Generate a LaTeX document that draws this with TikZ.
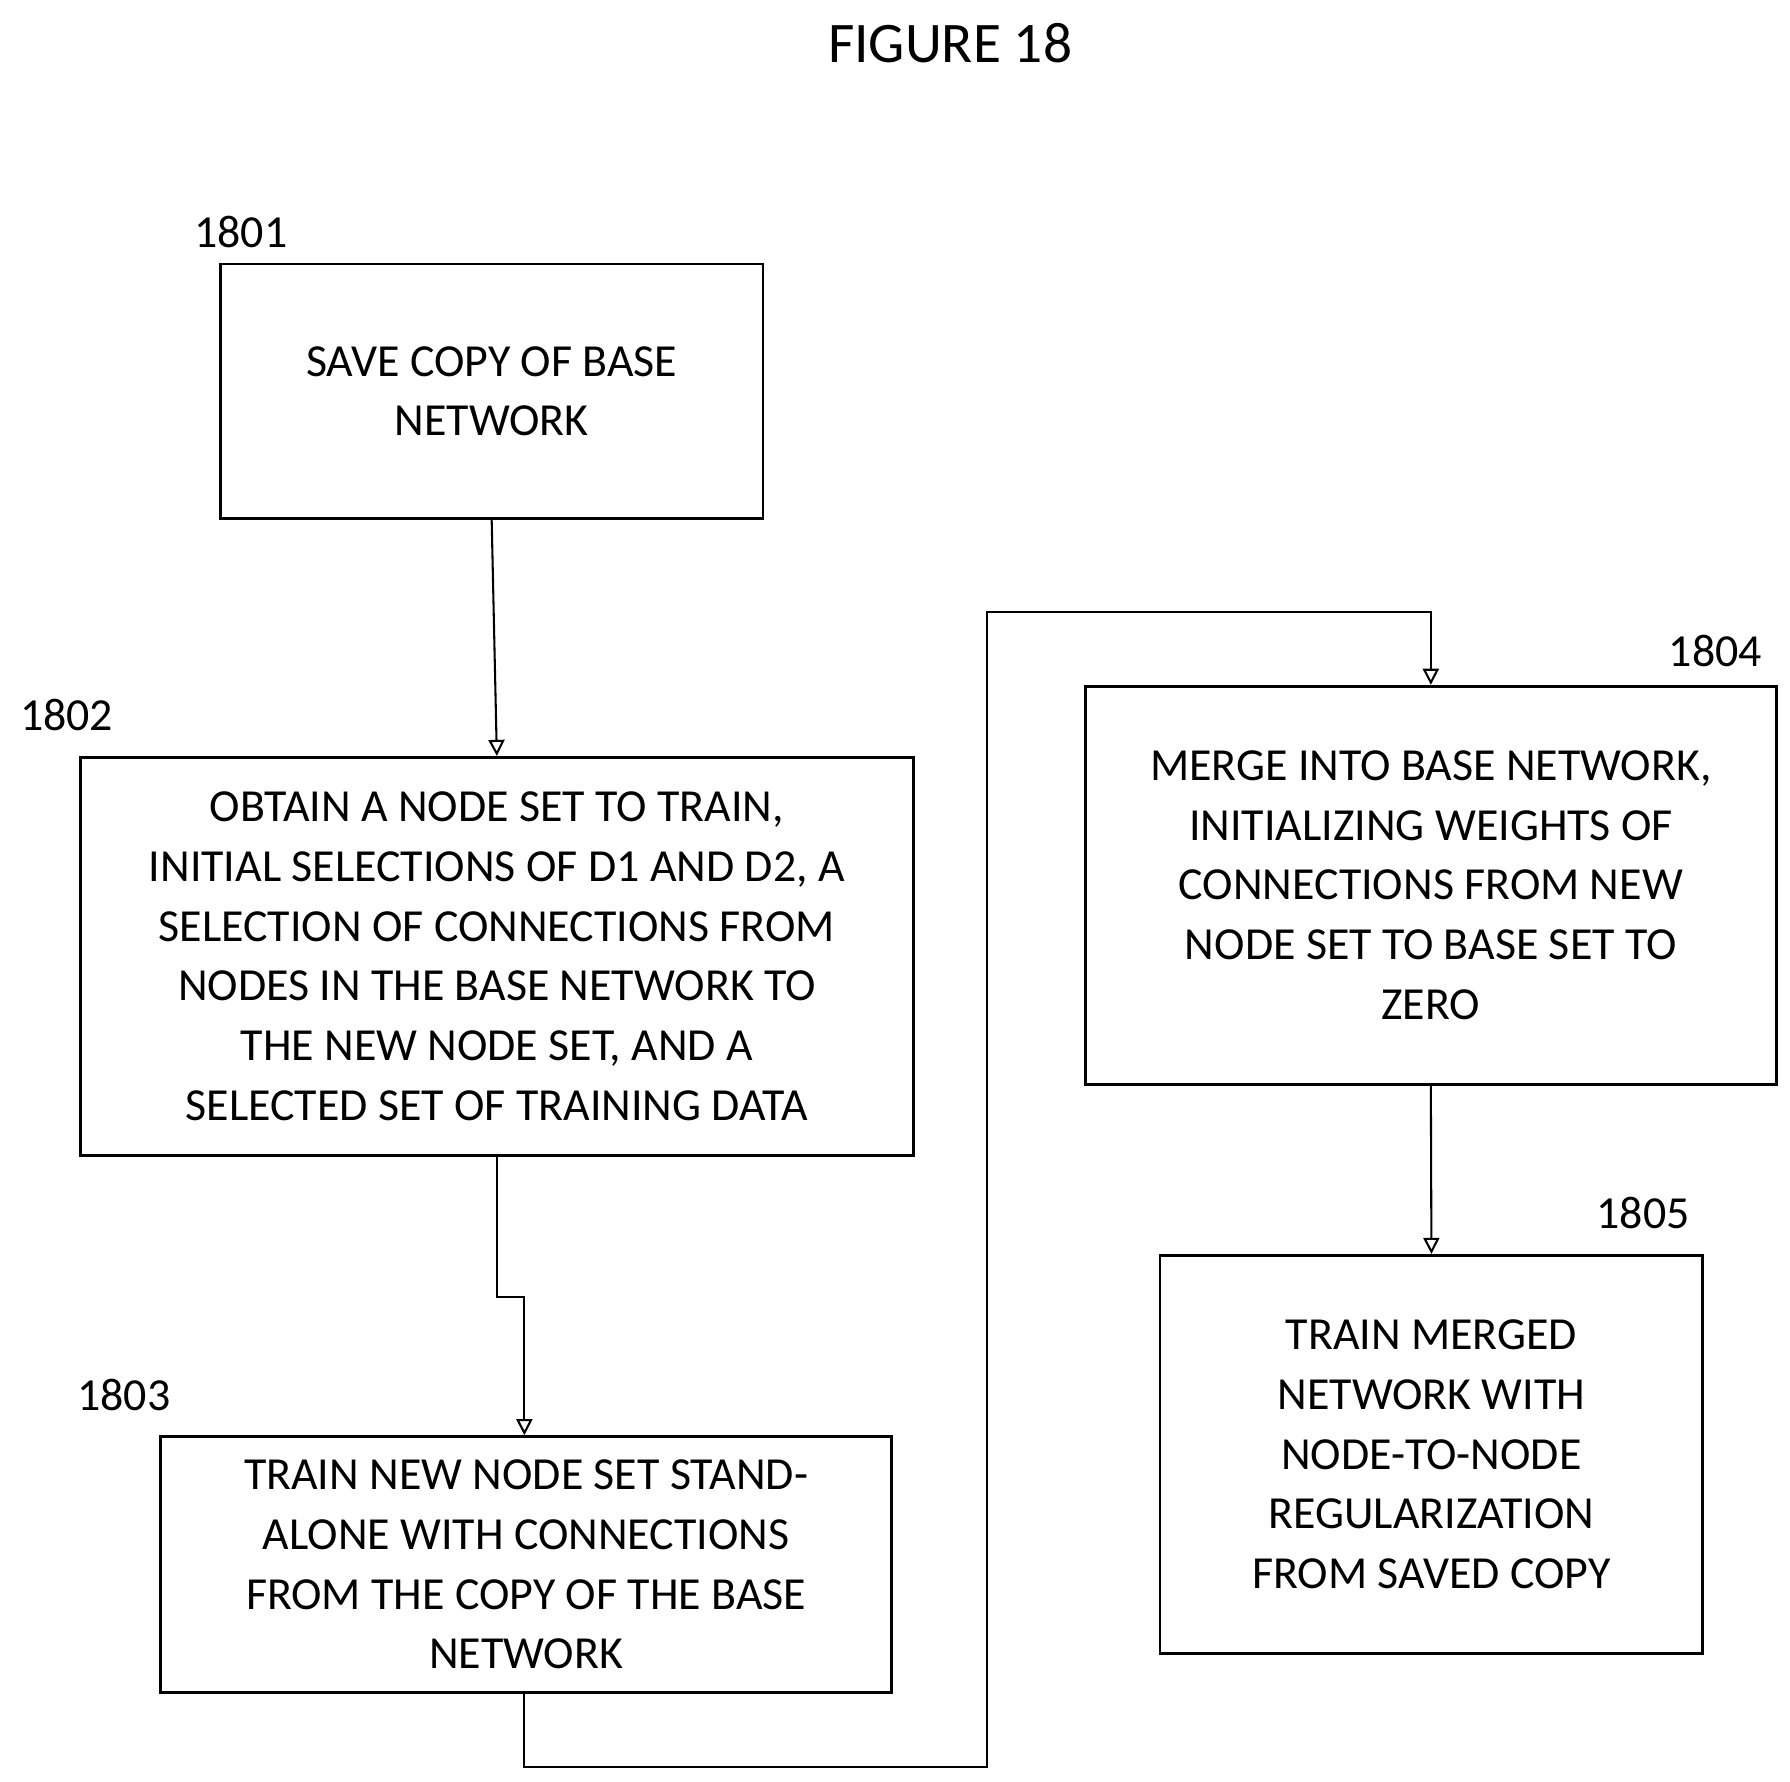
\documentclass[tikz,border=0pt]{standalone}
\usepackage{fontspec}
\setmainfont{Carlito}
\usetikzlibrary{arrows.meta}
\begin{document}
\begin{tikzpicture}[x=0.5pt,y=-0.5pt,
  box/.style={draw,line width=1.2pt,inner sep=0pt,align=center,font=\fontsize{20}{26}\selectfont},
  lab/.style={font=\fontsize{20}{24}\selectfont},
  conn/.style={line width=0.9pt,-{Triangle[open,length=7pt,width=7pt]}}]
\useasboundingbox (0,0) rectangle (1560,1553);
\node[font=\fontsize{25}{30}\selectfont] (t) at (828,38) {FIGURE 18};
\node[box,minimum width=473pt*0.5,minimum height=222pt*0.5] (b1) at (428.5,341) {SAVE COPY OF BASE\\NETWORK};
\node[box,minimum width=726pt*0.5,minimum height=347pt*0.5] (b2) at (433,833.5) {OBTAIN A NODE SET TO TRAIN,\\INITIAL SELECTIONS OF D1 AND D2, A\\SELECTION OF CONNECTIONS FROM\\NODES IN THE BASE NETWORK TO\\THE NEW NODE SET, AND A\\SELECTED SET OF TRAINING DATA};
\node[box,minimum width=637pt*0.5,minimum height=223pt*0.5] (b3) at (458.5,1363.5) {TRAIN NEW NODE SET STAND-\\ALONE WITH CONNECTIONS\\FROM THE COPY OF THE BASE\\NETWORK};
\node[box,minimum width=602pt*0.5,minimum height=347pt*0.5] (b4) at (1247,771.5) {MERGE INTO BASE NETWORK,\\INITIALIZING WEIGHTS OF\\CONNECTIONS FROM NEW\\NODE SET TO BASE SET TO\\ZERO};
\node[box,minimum width=473pt*0.5,minimum height=347pt*0.5] (b5) at (1247.5,1267.5) {TRAIN MERGED\\NETWORK WITH\\NODE-TO-NODE\\REGULARIZATION\\FROM SAVED COPY};
\node[lab] (l1) at (210,202) {1801};
\node[lab] (l2) at (58,623) {1802};
\node[lab] (l3) at (108,1216) {1803};
\node[lab] (l4) at (1495,567) {1804};
\node[lab] (l5) at (1432,1057) {1805};
\draw[conn] (b1.south) -- (b2.north);
\coordinate (c1) at (433,1130);
\coordinate (c2) at (457,1130);
\draw[conn] (b2.south) -- (c1) -- (c2) -- (c2 |- b3.north);
\coordinate (d1) at (457,1540);
\coordinate (d2) at (860,1540);
\coordinate (d3) at (860,533);
\coordinate (d4) at (1247,533);
\draw[conn] (b3.south -| d1) -- (d1) -- (d2) -- (d3) -- (d4) -- (b4.north);
\draw[conn] (b4.south) -- (b5.north);
\end{tikzpicture}
\end{document}
